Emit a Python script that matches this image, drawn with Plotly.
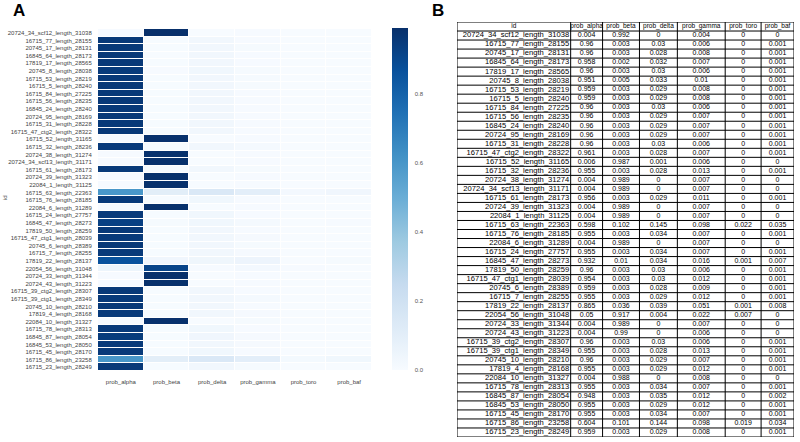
import plotly.graph_objects as go

ids = [
    "20724_34_scf12_length_31038", "16715_77_length_28155", "20745_17_length_28131",
    "16845_64_length_28173", "17819_17_length_28565", "20745_8_length_28038",
    "16715_53_length_28219", "16715_5_length_28240", "16715_84_length_27225",
    "16715_56_length_28235", "16845_24_length_28240", "20724_95_length_28169",
    "16715_31_length_28228", "16715_47_ctg2_length_28322", "16715_52_length_31165",
    "16715_32_length_28236", "20724_38_length_31274", "20724_34_scf13_length_31171",
    "16715_61_length_28173", "20724_39_length_31323", "22084_1_length_31125",
    "16715_63_length_22363", "16715_76_length_28185", "22084_6_length_31289",
    "16715_24_length_27757", "16845_47_length_28273", "17819_50_length_28259",
    "16715_47_ctg1_length_28039", "20745_6_length_28389", "16715_7_length_28255",
    "17819_22_length_28137", "22054_56_length_31048", "20724_33_length_31344",
    "20724_43_length_31223", "16715_39_ctg2_length_28307", "16715_39_ctg1_length_28349",
    "20745_10_length_28210", "17819_4_length_28168", "22084_10_length_31327",
    "16715_78_length_28313", "16845_87_length_28054", "16845_53_length_28050",
    "16715_45_length_28170", "16715_86_length_23258", "16715_23_length_28249",
]

prob_alpha = [0.004, 0.96, 0.96, 0.958, 0.96, 0.951, 0.959, 0.959, 0.96, 0.96,
              0.96, 0.96, 0.96, 0.961, 0.006, 0.955, 0.004, 0.004, 0.956, 0.004,
              0.004, 0.598, 0.955, 0.004, 0.955, 0.932, 0.96, 0.954, 0.959, 0.955,
              0.865, 0.05, 0.004, 0.004, 0.96, 0.955, 0.96, 0.955, 0.004, 0.955,
              0.948, 0.955, 0.955, 0.604, 0.959]
prob_beta = [0.992, 0.003, 0.003, 0.002, 0.003, 0.005, 0.003, 0.003, 0.003, 0.003,
             0.003, 0.003, 0.003, 0.003, 0.987, 0.003, 0.989, 0.989, 0.003, 0.989,
             0.989, 0.102, 0.003, 0.989, 0.003, 0.01, 0.003, 0.003, 0.003, 0.003,
             0.036, 0.917, 0.989, 0.99, 0.003, 0.003, 0.003, 0.003, 0.988, 0.003,
             0.003, 0.003, 0.003, 0.101, 0.003]
prob_delta = [0, 0.03, 0.028, 0.032, 0.03, 0.033, 0.029, 0.029, 0.03, 0.029,
              0.029, 0.029, 0.03, 0.028, 0.001, 0.028, 0, 0, 0.029, 0,
              0, 0.145, 0.034, 0, 0.034, 0.034, 0.03, 0.03, 0.028, 0.029,
              0.039, 0.004, 0, 0, 0.03, 0.028, 0.029, 0.029, 0, 0.034,
              0.035, 0.029, 0.034, 0.144, 0.029]
prob_gamma = [0.004, 0.006, 0.008, 0.007, 0.006, 0.01, 0.008, 0.008, 0.006, 0.007,
              0.007, 0.007, 0.006, 0.007, 0.006, 0.013, 0.007, 0.007, 0.011, 0.007,
              0.007, 0.098, 0.007, 0.007, 0.007, 0.016, 0.006, 0.012, 0.009, 0.012,
              0.051, 0.022, 0.007, 0.006, 0.006, 0.013, 0.007, 0.012, 0.008, 0.007,
              0.012, 0.012, 0.007, 0.098, 0.008]
prob_toro = [0, 0, 0, 0, 0, 0, 0, 0, 0, 0,
             0, 0, 0, 0, 0, 0, 0, 0, 0, 0,
             0, 0.022, 0, 0, 0, 0.001, 0, 0, 0, 0,
             0.001, 0.007, 0, 0, 0, 0, 0, 0, 0, 0,
             0, 0, 0, 0.019, 0]
prob_baf = [0, 0.001, 0.001, 0.001, 0.001, 0.001, 0.001, 0.001, 0.001, 0.001,
            0.001, 0.001, 0.001, 0.001, 0, 0.001, 0, 0, 0.001, 0,
            0, 0.035, 0.001, 0, 0.001, 0.007, 0.001, 0.001, 0.001, 0.001,
            0.008, 0, 0, 0, 0.001, 0.001, 0.001, 0.001, 0, 0.001,
            0.002, 0.001, 0.001, 0.034, 0.001]

columns = ["prob_alpha", "prob_beta", "prob_delta", "prob_gamma", "prob_toro", "prob_baf"]
series = [prob_alpha, prob_beta, prob_delta, prob_gamma, prob_toro, prob_baf]
colorbar_ticks = [0.0, 0.2, 0.4, 0.6, 0.8]

# table layout (relative column widths)
table_header = ["id"] + columns
table_colwidths = [114, 32, 37, 38, 48, 36, 33]

blues = ["#f7fbff", "#deebf7", "#c6dbef", "#9ecae1", "#6baed6",
         "#4292c6", "#2171b5", "#08519c", "#08306b"]
colorscale = [[i / (len(blues) - 1), c] for i, c in enumerate(blues)]

FONT = "Liberation Sans, Arial, sans-serif"
W, H = 800, 442
def px_x(p):
    return p / W
def px_y(p):
    return 1 - p / H

fig = go.Figure()

# ---------------- Panel A: heatmap ----------------
z = [[s[i] for s in series] for i in range(len(ids))]
fig.add_trace(go.Heatmap(
    z=z, x=columns, y=ids,
    colorscale=colorscale, zmin=0, zmax=max(max(s) for s in series),
    xgap=1, ygap=1,
    colorbar=dict(
        x=px_x(392), xanchor="left", y=px_y(370), yanchor="bottom",
        len=(370 - 28) / H, lenmode="fraction", thickness=16,
        ypad=0, xpad=0,
        outlinewidth=0, ticks="outside", ticklen=6, tickcolor="rgba(0,0,0,0)",
        tickvals=colorbar_ticks, tickformat=".1f",
        tickfont=dict(family=FONT, size=6, color="#555555"),
    ),
    xaxis="x", yaxis="y", hoverinfo="skip",
))

# ---------------- Panel B: table ----------------
def fmt(v):
    return f"{v:g}"

n_rows = len(ids) + 1  # header + data rows
bounds = [0]
for w in table_colwidths:
    bounds.append(bounds[-1] + w)
total_w = bounds[-1]

lx, ly = [], []
for r in range(n_rows + 1):
    lx += [0, total_w, None]
    ly += [r, r, None]
for b in bounds:
    lx += [b, b, None]
    ly += [0, n_rows, None]
fig.add_trace(go.Scatter(
    x=lx, y=ly, mode="lines", line=dict(color="black", width=1),
    xaxis="x2", yaxis="y2", hoverinfo="skip", showlegend=False,
))

# header text
hx = [(bounds[i] + bounds[i + 1]) / 2 for i in range(len(table_header))]
fig.add_trace(go.Scatter(
    x=hx, y=[0.5] * len(table_header), text=table_header, mode="text",
    textposition="middle center", textfont=dict(family=FONT, size=6.5, color="black"),
    xaxis="x2", yaxis="y2", hoverinfo="skip", showlegend=False, cliponaxis=False,
))
# id column (right aligned)
fig.add_trace(go.Scatter(
    x=[bounds[1] - 1.5] * len(ids), y=[i + 1.5 for i in range(len(ids))], text=ids,
    mode="text", textposition="middle left",
    textfont=dict(family=FONT, size=7.6, color="black"),
    xaxis="x2", yaxis="y2", hoverinfo="skip", showlegend=False, cliponaxis=False,
))
# numeric columns (centered)
for j, s in enumerate(series):
    cx = (bounds[j + 1] + bounds[j + 2]) / 2
    fig.add_trace(go.Scatter(
        x=[cx] * len(s), y=[i + 1.5 for i in range(len(s))], text=[fmt(v) for v in s],
        mode="text", textposition="middle center",
        textfont=dict(family=FONT, size=7, color="black"),
        xaxis="x2", yaxis="y2", hoverinfo="skip", showlegend=False, cliponaxis=False,
    ))

fig.update_layout(
    width=W, height=H,
    margin=dict(l=0, r=0, t=0, b=0, autoexpand=False),
    paper_bgcolor="white", plot_bgcolor="white",
    xaxis=dict(domain=[px_x(98), px_x(372)], showgrid=False, zeroline=False,
               ticks="outside", ticklen=5, tickcolor="rgba(0,0,0,0)",
               showline=False, automargin=False,
               tickfont=dict(family=FONT, size=6, color="#444444")),
    yaxis=dict(domain=[px_y(371), px_y(29)], autorange="reversed", showgrid=False,
               zeroline=False, ticks="outside", ticklen=4, tickcolor="rgba(0,0,0,0)",
               showline=False, automargin=False,
               tickfont=dict(family=FONT, size=6, color="#444444")),
    xaxis2=dict(domain=[px_x(457), px_x(794)], range=[0, total_w], visible=False,
                fixedrange=True),
    yaxis2=dict(domain=[px_y(437), px_y(22)], range=[n_rows, 0], visible=False,
                fixedrange=True),
    annotations=[
        dict(text="<b>A</b>", x=px_x(11), y=px_y(-1), xref="paper", yref="paper",
             xanchor="left", yanchor="top", showarrow=False,
             font=dict(family=FONT, size=17, color="black")),
        dict(text="<b>B</b>", x=px_x(430), y=px_y(-1), xref="paper", yref="paper",
             xanchor="left", yanchor="top", showarrow=False,
             font=dict(family=FONT, size=17, color="black")),
        dict(text="id", x=px_x(5), y=px_y(198), xref="paper", yref="paper",
             xanchor="center", yanchor="middle",
             textangle=-90, showarrow=False,
             font=dict(family=FONT, size=6, color="#444444")),
    ],
    showlegend=False,
)

fig.write_html("out.html", config={"displayModeBar": False},
               post_script="document.body.style.margin='0';")
